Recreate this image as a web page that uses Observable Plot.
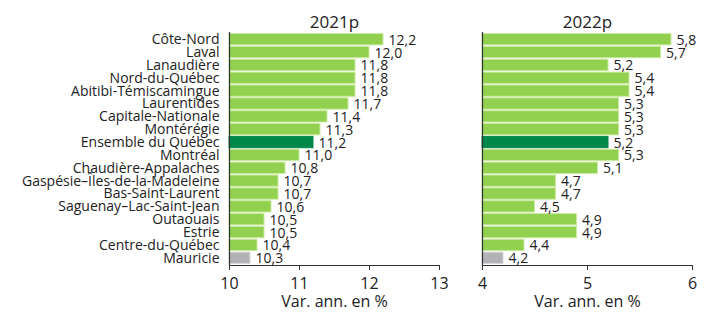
<!DOCTYPE html>
<html><head><meta charset="utf-8">
<script src="https://cdn.jsdelivr.net/npm/d3@7"></script>
<script src="https://cdn.jsdelivr.net/npm/@observablehq/plot@0.6"></script>
<style>
body{margin:0;background:#fff;font-family:"Open Sans",sans-serif;}
#wrap{display:flex;width:710px;height:314px;}
svg{font-family:"Open Sans",sans-serif;}
</style></head><body><div id="wrap"></div>
<script>
const regions = ["Côte-Nord","Laval","Lanaudière","Nord-du-Québec","Abitibi-Témiscamingue","Laurentides","Capitale-Nationale","Montérégie","Ensemble du Québec","Montréal","Chaudière-Appalaches","Gaspésie–Îles-de-la-Madeleine","Bas-Saint-Laurent","Saguenay–Lac-Saint-Jean","Outaouais","Estrie","Centre-du-Québec","Mauricie"];
const v2021 = [12.2,12.0,11.8,11.8,11.8,11.7,11.4,11.3,11.2,11.0,10.8,10.7,10.7,10.6,10.5,10.5,10.4,10.3];
const v2022 = [5.8,5.7,5.2,5.4,5.4,5.3,5.3,5.3,5.2,5.3,5.1,4.7,4.7,4.5,4.9,4.9,4.4,4.2];
const titles = ["2021p","2022p"];
const ticks2021 = [10,11,12,13];
const ticks2022 = [4,5,6];
const axisLabel = "Var. ann. en %";
const highlight = "Ensemble du Québec";
const lowest = "Mauricie";

const fillOf = r => r === highlight ? "#00884a" : r === lowest ? "#b2b2b6" : "#92d050";
const strokeOf = r => r === highlight ? "#00884a" : r === lowest ? "#d8d8da" : "#c9ea9f";
const fmt = v => v.toFixed(1).replace(".", ",");

function panel(vals, domain, tickVals, title, showY, width, ml, mr) {
  const data = regions.map((r, i) => ({region: r, value: vals[i]}));
  return Plot.plot({
    width, height: 314,
    marginTop: 32, marginBottom: 49, marginLeft: ml, marginRight: mr,
    style: {fontFamily: "Open Sans, sans-serif", color: "#222", background: "#fff"},
    x: {domain, ticks: tickVals},
    y: {domain: regions, padding: 0.12, round: false},
    marks: [
      Plot.barX(data, {x1: domain[0], x2: "value", y: "region", fill: d => fillOf(d.region), stroke: d => strokeOf(d.region), strokeWidth: 1}),
      Plot.text(data, {x: "value", y: "region", text: d => fmt(d.value), textAnchor: "start", dx: 5, dy: 0.5, fontSize: 14, fill: "#222"}),
      Plot.ruleX([domain[0]], {stroke: "#333", strokeWidth: 1.2}),
      Plot.frame({anchor: "bottom", stroke: "#333", strokeWidth: 1.2}),
      Plot.axisX({ticks: tickVals, tickSize: 5, tickPadding: 7, fontSize: 16, label: null, tickFormat: d => String(d), stroke: "#333"}),
      showY ? Plot.axisY({tickSize: 0, tickPadding: 10, fontSize: 14, label: null}) : Plot.axisY({ticks: [], label: null}),
      Plot.text([axisLabel], {frameAnchor: "bottom", dy: 41, fontSize: 16, fill: "#222"}),
      Plot.text([title], {frameAnchor: "top", dy: -17, fontSize: 17, fill: "#222"})
    ]
  });
}

const wrap = document.getElementById("wrap");
wrap.appendChild(panel(v2021, [10, 13], ticks2021, titles[0], true, 460, 229, 21));
wrap.appendChild(panel(v2022, [4, 6], ticks2022, titles[1], false, 250, 22, 18));
</script></body></html>
